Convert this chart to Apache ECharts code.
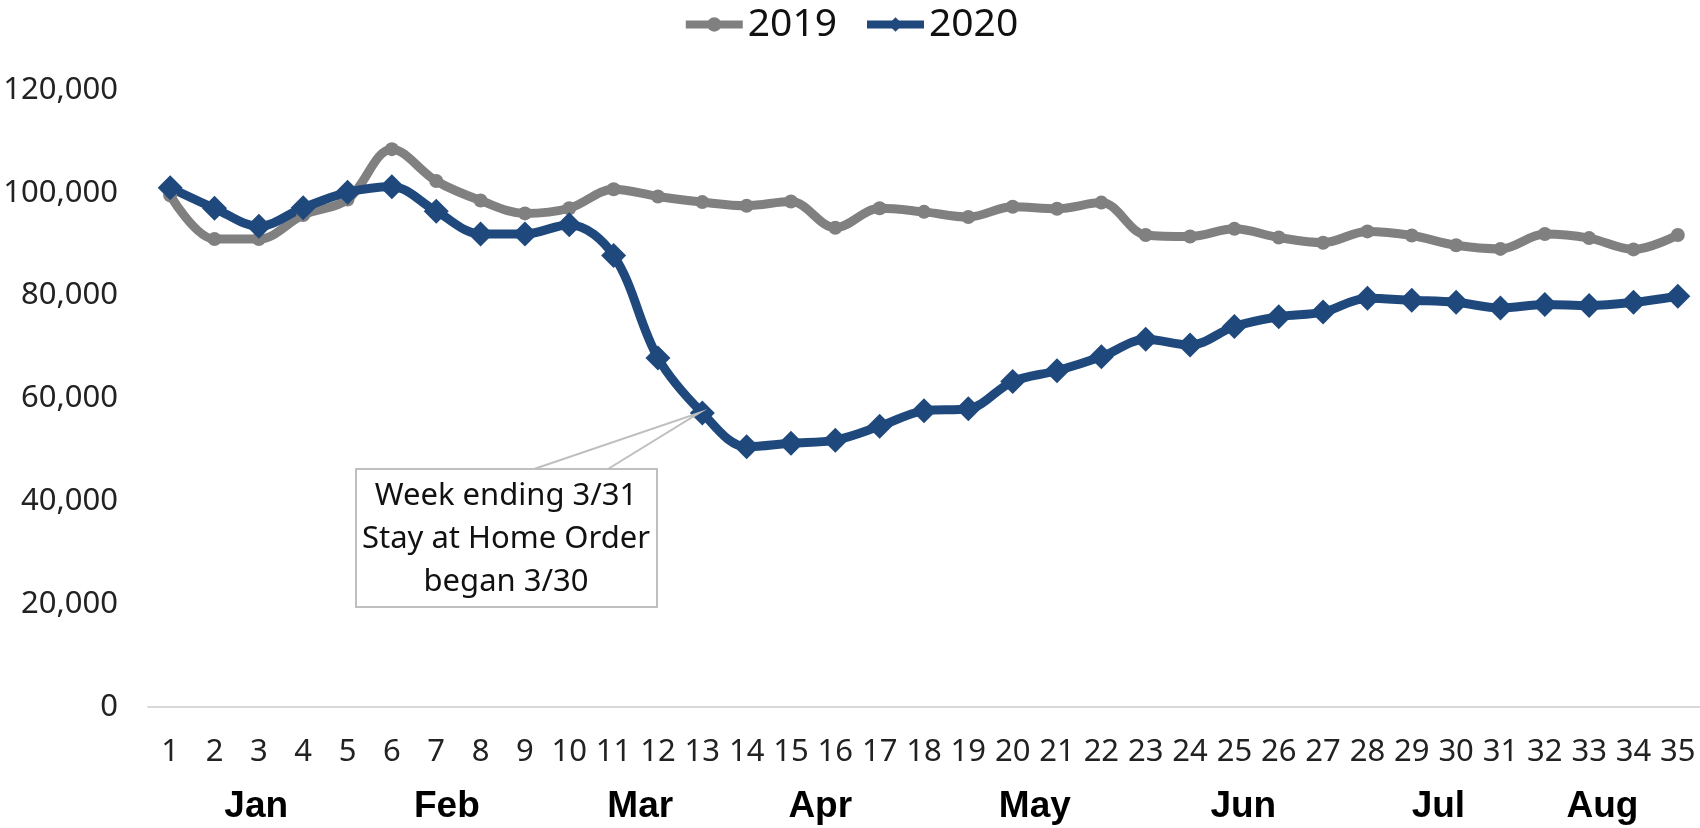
<!DOCTYPE html>
<html>
<head>
<meta charset="utf-8">
<script src="https://cdn.jsdelivr.net/npm/echarts@6/dist/echarts.min.js"></script>
<style>
  html, body { margin: 0; padding: 0; background: #fff; }
  #chart { width: 1700px; height: 828px; }
</style>
</head>
<body>
<div id="chart"></div>
<script>
const weeks = ['1', '2', '3', '4', '5', '6', '7', '8', '9', '10', '11', '12', '13', '14', '15', '16', '17', '18',
  '19', '20', '21', '22', '23', '24', '25', '26', '27', '28', '29', '30', '31', '32', '33', '34', '35'];

const visits2019 = [99500, 91000, 91000, 95700, 98700, 108500, 102300, 98500, 96000, 97000,
  100700, 99300, 98200, 97500, 98300, 93200, 97000, 96300, 95300, 97300,
  96900, 98100, 91800, 91500, 93000, 91300, 90300, 92500, 91700, 89800,
  89100, 92000, 91200, 89000, 91800];

const visits2020 = [101000, 97000, 93500, 97100, 100100, 101200, 96400, 92000, 92000, 93800,
  87800, 67900, 57200, 50600, 51300, 51900, 54600, 57600, 58000, 63300,
  65400, 68100, 71500, 70400, 74000, 75900, 76800, 79500, 79100, 78700,
  77600, 78300, 78100, 78700, 79900];

// month labels under the week numbers, placed in week units
const months = ['Jan', 'Feb', 'Mar', 'Apr', 'May', 'Jun', 'Jul', 'Aug'];
const monthWeeks = [2.94, 7.24, 11.6, 15.66, 20.5, 25.2, 29.6, 33.3];

const noteLines = ['Week ending 3/31', 'Stay at Home Order', 'began 3/30'];
const noteWeek = 13;

const chart = echarts.init(document.getElementById('chart'));

chart.setOption({
  animation: false,
  legend: {
    top: 0,
    left: 'center',
    itemWidth: 57,
    itemHeight: 18,
    itemGap: 26,
    lineStyle: { width: 8 },
    textStyle: { fontSize: 39, fontFamily: 'Noto Sans', color: '#111' }
  },
  grid: {
    left: 148,
    right: 0,
    top: 90,
    bottom: 121,
    containLabel: false,
    outerBoundsMode: 'none'
  },
  xAxis: {
    type: 'category',
    data: weeks,
    boundaryGap: true,
    axisLine: { lineStyle: { color: '#d9d9d9', width: 2 } },
    axisTick: { show: false },
    axisLabel: {
      interval: 0,
      margin: 30,
      fontSize: 31,
      fontFamily: 'Noto Sans',
      color: '#222'
    }
  },
  yAxis: {
    type: 'value',
    min: 0,
    max: 120000,
    interval: 20000,
    axisLine: { show: false },
    axisTick: { show: false },
    splitLine: { show: false },
    axisLabel: {
      margin: 30,
      fontSize: 31,
      fontFamily: 'Noto Sans',
      color: '#222',
      formatter: v => v.toLocaleString('en-US')
    }
  },
  series: [
    {
      name: '2019',
      type: 'line',
      data: visits2019,
      smooth: 0.35,
      symbol: 'circle',
      symbolSize: 14,
      lineStyle: { color: '#808080', width: 9 },
      itemStyle: { color: '#808080' }
    },
    {
      name: '2020',
      type: 'line',
      data: visits2020,
      smooth: 0.35,
      symbol: 'diamond',
      symbolSize: 25,
      lineStyle: { color: '#1f497d', width: 9 },
      itemStyle: { color: '#1f497d' }
    }
  ]
});

function drawExtras() {
  const x0 = chart.convertToPixel({ xAxisIndex: 0 }, 0);
  const x1 = chart.convertToPixel({ xAxisIndex: 0 }, 1);
  const step = x1 - x0;

  const monthTexts = months.map((m, i) => ({
    type: 'text',
    x: x0 + (monthWeeks[i] - 1) * step,
    y: 807,
    style: {
      text: m,
      font: 'bold 37px "Liberation Sans"',
      fill: '#000',
      textAlign: 'center',
      textVerticalAlign: 'middle',
      align: 'center',
      verticalAlign: 'middle'
    }
  }));

  const pt = chart.convertToPixel({ seriesIndex: 1 }, [noteWeek - 1, visits2020[noteWeek - 1]]);

  const note = [
    {
      type: 'polyline',
      shape: { points: [[534, 469], [pt[0] - 3, pt[1]], [608, 469]] },
      style: { stroke: '#bfbfbf', lineWidth: 2, fill: null },
      z: 100
    },
    {
      type: 'rect',
      shape: { x: 356, y: 469, width: 301, height: 138 },
      style: { fill: '#fff', stroke: '#bfbfbf', lineWidth: 2 },
      z: 101
    },
    {
      type: 'text',
      x: 506,
      y: 539,
      z: 102,
      style: {
        text: noteLines.join('\n'),
        font: '31px "Noto Sans"',
        lineHeight: 43,
        fill: '#111',
        textAlign: 'center',
        textVerticalAlign: 'middle',
        align: 'center',
        verticalAlign: 'middle'
      }
    }
  ];

  chart.setOption({ graphic: monthTexts.concat(note) });
}

drawExtras();
</script>
</body>
</html>
